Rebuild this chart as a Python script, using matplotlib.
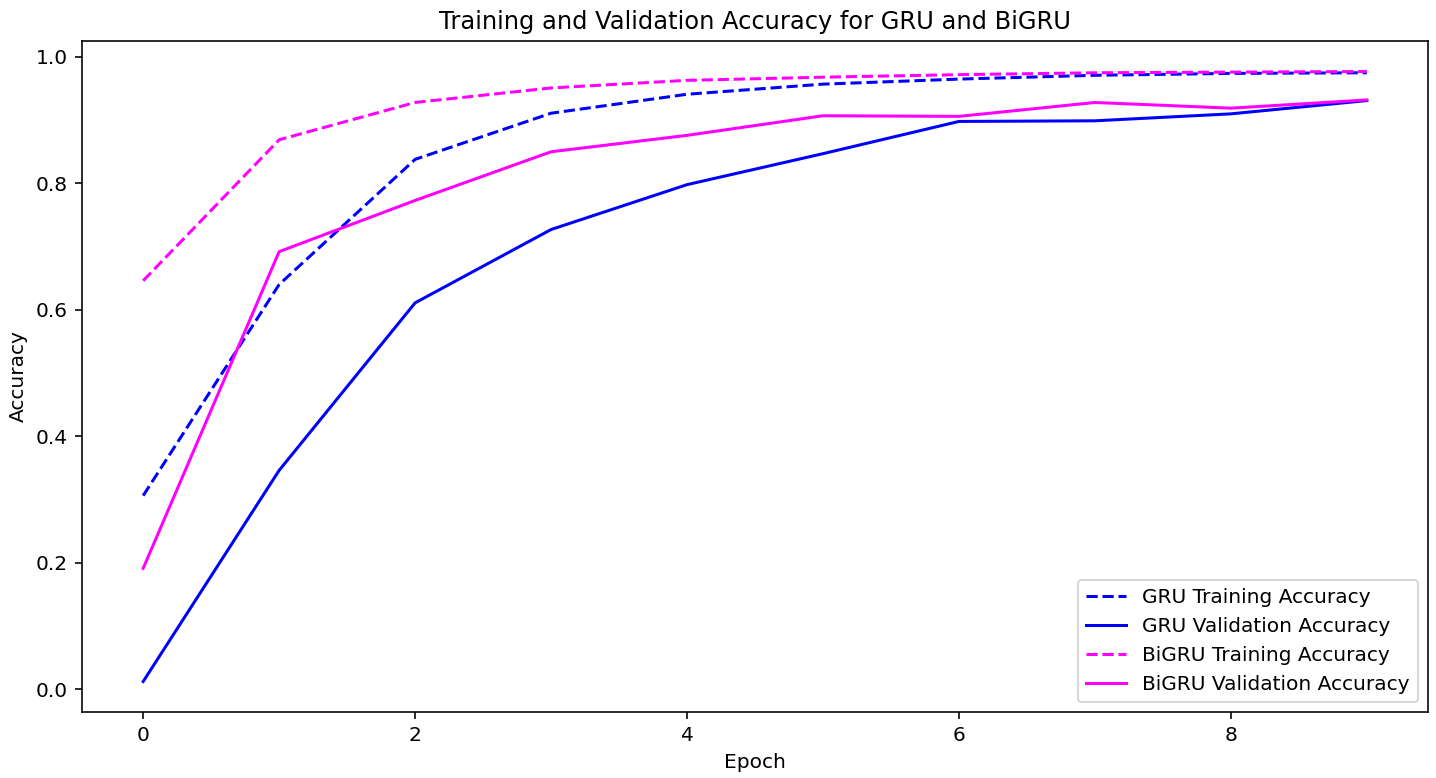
import matplotlib
matplotlib.use("Agg")
import matplotlib.pyplot as plt

epochs = list(range(10))
gru_train = [0.306, 0.640, 0.838, 0.911, 0.941, 0.957, 0.965, 0.971, 0.974, 0.975]
gru_val = [0.012, 0.346, 0.611, 0.727, 0.798, 0.847, 0.898, 0.899, 0.910, 0.931]
bigru_train = [0.646, 0.869, 0.928, 0.951, 0.963, 0.968, 0.972, 0.975, 0.976, 0.977]
bigru_val = [0.191, 0.692, 0.773, 0.850, 0.876, 0.907, 0.906, 0.928, 0.919, 0.932]

dpi = 145
W, H = 1437, 778
fig = plt.figure(figsize=(W / dpi, H / dpi), dpi=dpi)
ax = fig.add_axes([82 / W, 1 - 712 / H, (1428 - 82) / W, (712 - 41) / H])

ax.plot(epochs, gru_train, color="blue", linestyle="--", label="GRU Training Accuracy")
ax.plot(epochs, gru_val, color="blue", linestyle="-", label="GRU Validation Accuracy")
ax.plot(epochs, bigru_train, color="magenta", linestyle="--", label="BiGRU Training Accuracy")
ax.plot(epochs, bigru_val, color="magenta", linestyle="-", label="BiGRU Validation Accuracy")

ax.set_title("Training and Validation Accuracy for GRU and BiGRU")
ax.set_xlabel("Epoch")
ax.set_ylabel("Accuracy")
ax.legend(loc="lower right")

fig.savefig("out.png", dpi=dpi)
